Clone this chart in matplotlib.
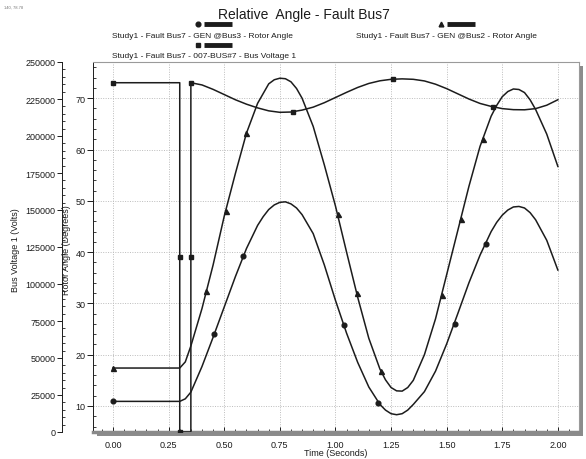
import matplotlib
matplotlib.use("Agg")
import matplotlib.pyplot as plt
from matplotlib.lines import Line2D
from matplotlib.patches import Rectangle
from matplotlib.ticker import MultipleLocator, FormatStrFormatter

plt.rcParams["font.family"] = ["Liberation Sans", "DejaVu Sans"]

W, H = 586, 460

# rotor angle traces (degrees), shared time base
T_ANG = [0.00, 0.30, 0.325, 0.35, 0.40, 0.45, 0.50, 0.55, 0.60, 0.65, 0.675,
         0.70, 0.725, 0.75, 0.775, 0.80, 0.825, 0.85, 0.90, 0.95, 1.00, 1.05,
         1.10, 1.15, 1.20, 1.225, 1.25, 1.275, 1.30, 1.325, 1.35, 1.40, 1.45,
         1.50, 1.55, 1.60, 1.65, 1.70, 1.725, 1.75, 1.775, 1.80, 1.825, 1.85,
         1.875, 1.90, 1.95, 2.00]
ANG_BUS2 = [17.4, 17.4, 18.6, 21.7, 29.0, 37.5, 47.0, 55.3, 63.2, 69.0, 70.9,
            72.8, 73.6, 73.9, 73.8, 73.2, 71.9, 70.0, 64.5, 57.0, 49.0, 40.0,
            31.2, 23.2, 17.2, 15.1, 13.6, 12.95, 12.9, 13.6, 15.0, 20.0, 27.0,
            35.6, 44.2, 52.8, 60.6, 66.5, 68.6, 70.3, 71.3, 71.8, 71.7, 71.1,
            69.7, 67.8, 63.0, 56.7]
ANG_BUS3 = [10.9, 10.9, 11.4, 12.7, 17.7, 23.4, 29.3, 35.2, 40.7, 45.2, 46.9,
            48.3, 49.2, 49.7, 49.8, 49.4, 48.6, 47.3, 43.6, 37.5, 30.6, 24.2,
            18.5, 13.7, 10.3, 9.2, 8.5, 8.3, 8.5, 9.2, 10.3, 12.8, 16.8,
            22.1, 28.0, 34.0, 39.4, 44.0, 45.8, 47.2, 48.2, 48.8, 48.9, 48.6,
            47.7, 46.3, 42.3, 36.5]

# bus voltage (volts)
T_V = [0.00, 0.30, 0.30, 0.35, 0.35, 0.40, 0.45, 0.50, 0.55, 0.60, 0.65,
       0.70, 0.75, 0.80, 0.85, 0.90, 0.95, 1.00, 1.05, 1.10, 1.15, 1.20,
       1.25, 1.30, 1.35, 1.40, 1.45, 1.50, 1.55, 1.60, 1.65, 1.70, 1.75,
       1.80, 1.85, 1.90, 1.95, 2.00]
VOLT = [236000, 236000, 0, 0, 236000, 234500, 231500, 228000, 224500,
        221500, 219000, 217000, 216000, 216200, 217500, 219500, 222500,
        226000, 229500, 232800, 235500, 237300, 238300, 238600, 238300,
        237200, 235000, 232000, 228500, 225000, 222000, 220000, 218500,
        217800, 217700, 218500, 220800, 224500]

# marker positions as they appear on the traces
MK_V_T = [0.00, 0.30, 0.30, 0.35, 0.35, 0.807, 1.26, 1.71]
MK_V = [236000, 118000, 0, 118000, 236000, 216400, 238300, 219800]
MK_B3_T = [0.00, 0.454, 0.583, 1.038, 1.19, 1.537, 1.675]
MK_B3 = [10.9, 24.0, 39.2, 25.8, 10.6, 26.0, 41.6]
MK_B2_T = [0.00, 0.42, 0.506, 0.60, 1.01, 1.095, 1.205, 1.477, 1.563, 1.663]
MK_B2 = [17.4, 32.4, 48.0, 63.2, 47.4, 32.1, 16.8, 31.6, 46.4, 62.1]

TITLE = "Relative  Angle - Fault Bus7"
LEG_B3 = "Study1 - Fault Bus7 - GEN @Bus3 - Rotor Angle"
LEG_B2 = "Study1 - Fault Bus7 - GEN @Bus2 - Rotor Angle"
LEG_V = "Study1 - Fault Bus7 - 007-BUS#7 - Bus Voltage 1"

INK = "#1c1c1c"
FS = 6.5


def fx(px):
    return px / W


def fy(py):
    return 1 - py / H


fig = plt.figure(figsize=(W / 100, H / 100), dpi=100)
fig.patch.set_facecolor("white")

# drop shadow behind the plot box
shadow = Rectangle((fx(97), fy(437)), 486 / W, 370 / H, transform=fig.transFigure,
                   facecolor="#8c8c8c", edgecolor="none", zorder=-5)
fig.add_artist(shadow)

ax = fig.add_axes([fx(93), fy(433), 486 / W, 370 / H])
ax.set_facecolor("white")
ax.set_xlim(-0.09, 2.095)
ax.set_ylim(4.93, 77.06)

ax_v = ax.twinx()
ax_v.set_ylim(0, 250000)
ax_v.patch.set_visible(False)

# grid follows the angle axis
ax.grid(True, which="major", color="#bcbcbc", linestyle=(0, (1, 1.5)), linewidth=0.7)
ax.set_axisbelow(True)

ax.plot(T_ANG, ANG_BUS2, color=INK, lw=1.1, zorder=3)
ax.plot(T_ANG, ANG_BUS3, color=INK, lw=1.1, zorder=3)
ax.plot(MK_B2_T, MK_B2, linestyle="none", marker="^", ms=3.6, color=INK, zorder=4)
ax.plot(MK_B3_T, MK_B3, linestyle="none", marker="o", ms=3.4, color=INK, zorder=4)
ax_v.plot(T_V, VOLT, color=INK, lw=1.1, zorder=3)
ax_v.plot(MK_V_T, MK_V, linestyle="none", marker="s", ms=3.4, color=INK, zorder=4)

# x axis
ax.xaxis.set_major_locator(MultipleLocator(0.25))
ax.xaxis.set_minor_locator(MultipleLocator(0.05))
ax.xaxis.set_major_formatter(FormatStrFormatter("%.2f"))
ax.tick_params(axis="x", which="major", direction="in", length=3.5, width=0.7,
               labelsize=FS, pad=5.5, colors=INK)
ax.tick_params(axis="x", which="minor", direction="in", length=2.2, width=0.6, colors=INK)
ax.set_xlabel("Time (Seconds)", fontsize=FS, labelpad=-0.5, color=INK)

# angle axis (inner left)
ax.yaxis.set_major_locator(MultipleLocator(10))
ax.yaxis.set_minor_locator(MultipleLocator(2))
ax.yaxis.set_major_formatter(FormatStrFormatter("%d"))
ax.tick_params(axis="y", which="major", direction="out", length=4.5, width=0.7,
               labelsize=FS, pad=1, colors=INK)
ax.tick_params(axis="y", which="minor", direction="in", length=2.2, width=0.6, colors=INK)
ax.set_ylabel("Rotor Angle (Degrees)", fontsize=FS, color=INK)
ax.yaxis.set_label_coords(-0.046, 0.495)

# voltage axis (outer left)
ax_v.spines["left"].set_position(("outward", 22.3))
ax_v.spines["left"].set_visible(True)
ax_v.spines["left"].set_color(INK)
ax_v.spines["left"].set_linewidth(0.7)
ax_v.spines["right"].set_visible(False)
ax_v.spines["top"].set_visible(False)
ax_v.spines["bottom"].set_visible(False)
ax_v.yaxis.set_ticks_position("left")
ax_v.yaxis.set_label_position("left")
ax_v.yaxis.set_major_locator(MultipleLocator(25000))
ax_v.yaxis.set_minor_locator(MultipleLocator(5000))
ax_v.yaxis.set_major_formatter(FormatStrFormatter("%d"))
ax_v.tick_params(axis="y", which="major", direction="out", length=3.5, width=0.7,
                 labelsize=FS, pad=1, colors=INK)
ax_v.tick_params(axis="y", which="minor", direction="in", length=2.2, width=0.6, colors=INK)
ax_v.set_ylabel("Bus Voltage 1 (Volts)", fontsize=FS, color=INK)
ax_v.yaxis.set_label_coords(-0.150, 0.495)

for side in ("top", "right"):
    ax.spines[side].set_color("#9a9a9a")
    ax.spines[side].set_linewidth(0.8)
ax.spines["bottom"].set_color("#8a8a8a")
ax.spines["bottom"].set_linewidth(2.5)
ax.spines["left"].set_color(INK)
ax.spines["left"].set_linewidth(0.7)

# header: title and legend keys
fig.text(fx(218), fy(15), TITLE, fontsize=10, color=INK, ha="left", va="center")
fig.text(fx(4), fy(8), "140, 78.78", fontsize=3, color="#777777", ha="left", va="center")

legend_items = [
    ("o", 198, 25, LEG_B3, 112, 37),
    ("s", 198, 46, LEG_V, 112, 56),
    ("^", 441, 25, LEG_B2, 356, 37),
]
for mk, mx, my, label, tx, ty in legend_items:
    fig.add_artist(Line2D([fx(mx)], [fy(my)], marker=mk, ms=3.4, color=INK,
                          linestyle="none", transform=fig.transFigure))
    fig.add_artist(Line2D([fx(mx + 6), fx(mx + 34)], [fy(my), fy(my)], lw=3.5,
                          color=INK, solid_capstyle="butt", transform=fig.transFigure))
    fig.text(fx(tx), fy(ty), label, fontsize=6, color=INK, ha="left", va="center")

fig.savefig("out.png", dpi=100)
